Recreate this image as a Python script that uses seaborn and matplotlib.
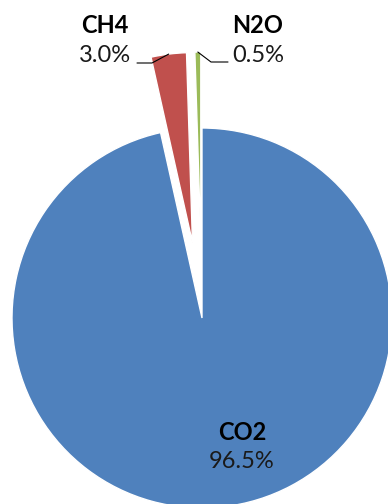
import numpy as np
import matplotlib
matplotlib.use("Agg")
import matplotlib.pyplot as plt
import seaborn as sns

# data
gases = ["CO2", "CH4", "N2O"]
shares = [96.5, 3.0, 0.5]
pie_colors = ["#4F81BD", "#C0504D", "#9BBB59"]
explode = [0.0, 0.4, 0.4]

sns.set_theme(style="white")
plt.rcParams['font.family'] = ['Lato', 'DejaVu Sans']

W, H, DPI = 388, 504, 100
fig = plt.figure(figsize=(W / DPI, H / DPI), dpi=DPI)
ax = fig.add_axes([0, 0, 1, 1])

wedges, _ = ax.pie(shares, colors=pie_colors, explode=explode, startangle=90,
                   counterclock=False, radius=1.0,
                   wedgeprops=dict(edgecolor="white", linewidth=1))

# pie centre at pixel (202, 318), radius 190 px
cx, cy, R = 202, 318, 190
ax.set_aspect("auto")
ax.set_xlim((0 - cx) / R, (W - cx) / R)
ax.set_ylim((cy - H) / R, cy / R)
ax.axis("off")


def arc_mid(w):
    t = np.deg2rad((w.theta1 + w.theta2) / 2)
    x0, y0 = w.center
    return x0 + w.r * np.cos(t), y0 + w.r * np.sin(t)


def px(x, y):
    return (x - cx) / R, (cy - y) / R


name_kw = dict(fontsize=17, fontweight="bold", ha="center", va="center", color="black")
pct_kw = dict(fontsize=17, fontweight="normal", ha="center", va="center", color="#1a1a1a")

# CO2 label inside
x, y = px(242, 432)
ax.text(x, y, gases[0], **name_kw)
x, y = px(242, 461)
ax.text(x, y, f"{shares[0]:.1f}%", **pct_kw)

# CH4 label outside left
x, y = px(105, 25)
ax.text(x, y, gases[1], **name_kw)
x, y = px(105, 55)
ax.text(x, y, f"{shares[1]:.1f}%", **pct_kw)
mx, my = arc_mid(wedges[1])
e1 = px(152, 63)
e2 = px(137, 63)
ax.plot([mx, e1[0], e2[0]], [my, e1[1], e2[1]], color="black", lw=0.8)

# N2O label outside right
x, y = px(258, 25)
ax.text(x, y, gases[2], **name_kw)
x, y = px(258, 55)
ax.text(x, y, f"{shares[2]:.1f}%", **pct_kw)
mx, my = arc_mid(wedges[2])
e1 = px(211, 62)
e2 = px(228, 62)
ax.plot([mx, e1[0], e2[0]], [my, e1[1], e2[1]], color="black", lw=0.8)

fig.savefig("out.png", dpi=DPI)
